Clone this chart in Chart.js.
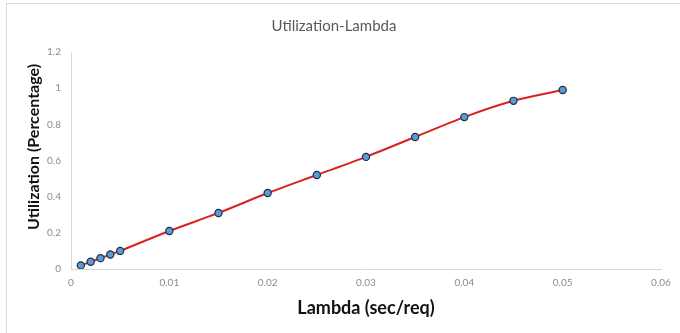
<!DOCTYPE html>
<html>
<head>
<meta charset="utf-8">
<script src="https://cdn.jsdelivr.net/npm/chart.js@4/dist/chart.umd.min.js"></script>
<style>
  html, body { margin: 0; padding: 0; background: #fff; overflow: hidden; width: 680px; height: 333px; }
  #frame { position: absolute; left: 6px; top: 3px; width: 700px; height: 360px;
           border-left: 1px solid #d9d9d9; border-top: 1px solid #d9d9d9; background: #fff; }
  canvas { display: block; }
</style>
</head>
<body>
<div id="frame"><canvas id="chart" width="680" height="333"></canvas></div>
<script>
// Arrival rate (sec/req) and measured utilization
const lambda = [0.001, 0.002, 0.003, 0.004, 0.005, 0.01, 0.015, 0.02, 0.025, 0.03, 0.035, 0.04, 0.045, 0.05];
const utilization = [0.02, 0.04, 0.06, 0.08, 0.10, 0.21, 0.31, 0.42, 0.52, 0.62, 0.73, 0.84, 0.93, 0.99];

// Axis tick labels
const xTickLabels = ['0', '0.01', '0.02', '0.03', '0.04', '0.05', '0.06'];
const yTickLabels = ['0', '0.2', '0.4', '0.6', '0.8', '1', '1.2'];

const points = lambda.map((x, i) => ({ x: x, y: utilization[i] }));

const tickFont = { family: 'Lato', size: 10 };
const tickColor = '#8c8c8c';

new Chart(document.getElementById('chart'), {
  type: 'scatter',
  data: {
    datasets: [{
      data: points,
      showLine: true,
      borderColor: '#d92222',
      borderWidth: 2,
      tension: 0.3,
      pointRadius: 3.6,
      pointBackgroundColor: '#5b9bd5',
      pointBorderColor: '#1e2f45',
      pointBorderWidth: 1.2
    }]
  },
  options: {
    responsive: false,
    animation: false,
    devicePixelRatio: 1,
    layout: { padding: { right: 26 } },
    plugins: {
      legend: { display: false },
      tooltip: { enabled: false },
      title: {
        display: true,
        text: 'Utilization-Lambda',
        color: '#595959',
        font: { family: 'Lato', size: 15, weight: 'normal', lineHeight: 1.2 },
        padding: { top: 13, bottom: 17 }
      }
    },
    scales: {
      x: {
        type: 'linear',
        min: 0,
        max: 0.06,
        grid: { display: false, drawTicks: false },
        border: { display: true, color: '#d9d9d9', width: 1 },
        ticks: {
          stepSize: 0.01,
          padding: 8,
          color: tickColor,
          font: tickFont,
          maxRotation: 0,
          callback: (v, i) => xTickLabels[i]
        },
        title: {
          display: true,
          text: 'Lambda (sec/req)',
          color: '#111',
          font: { family: 'Lato', size: 18, weight: 'bold', lineHeight: 1.2 },
          padding: { top: 0, bottom: 18 }
        },
        afterFit: (scale) => { scale.height = 68; }
      },
      y: {
        type: 'linear',
        min: 0,
        max: 1.2,
        grid: { display: false, drawTicks: false },
        border: { display: true, color: '#d9d9d9', width: 1 },
        ticks: {
          stepSize: 0.2,
          padding: 10,
          color: tickColor,
          font: tickFont,
          callback: (v, i) => yTickLabels[i]
        },
        title: {
          display: true,
          text: '\u00A0\u00A0\u00A0\u00A0\u00A0\u00A0\u00A0Utilization (Percentage)',
          color: '#111',
          font: { family: 'Lato', size: 16, weight: 'bold', lineHeight: 1.2 },
          padding: { top: 17, bottom: 4 }
        },
        afterFit: (scale) => { scale.width = 64; }
      }
    }
  }
});
</script>
</body>
</html>
